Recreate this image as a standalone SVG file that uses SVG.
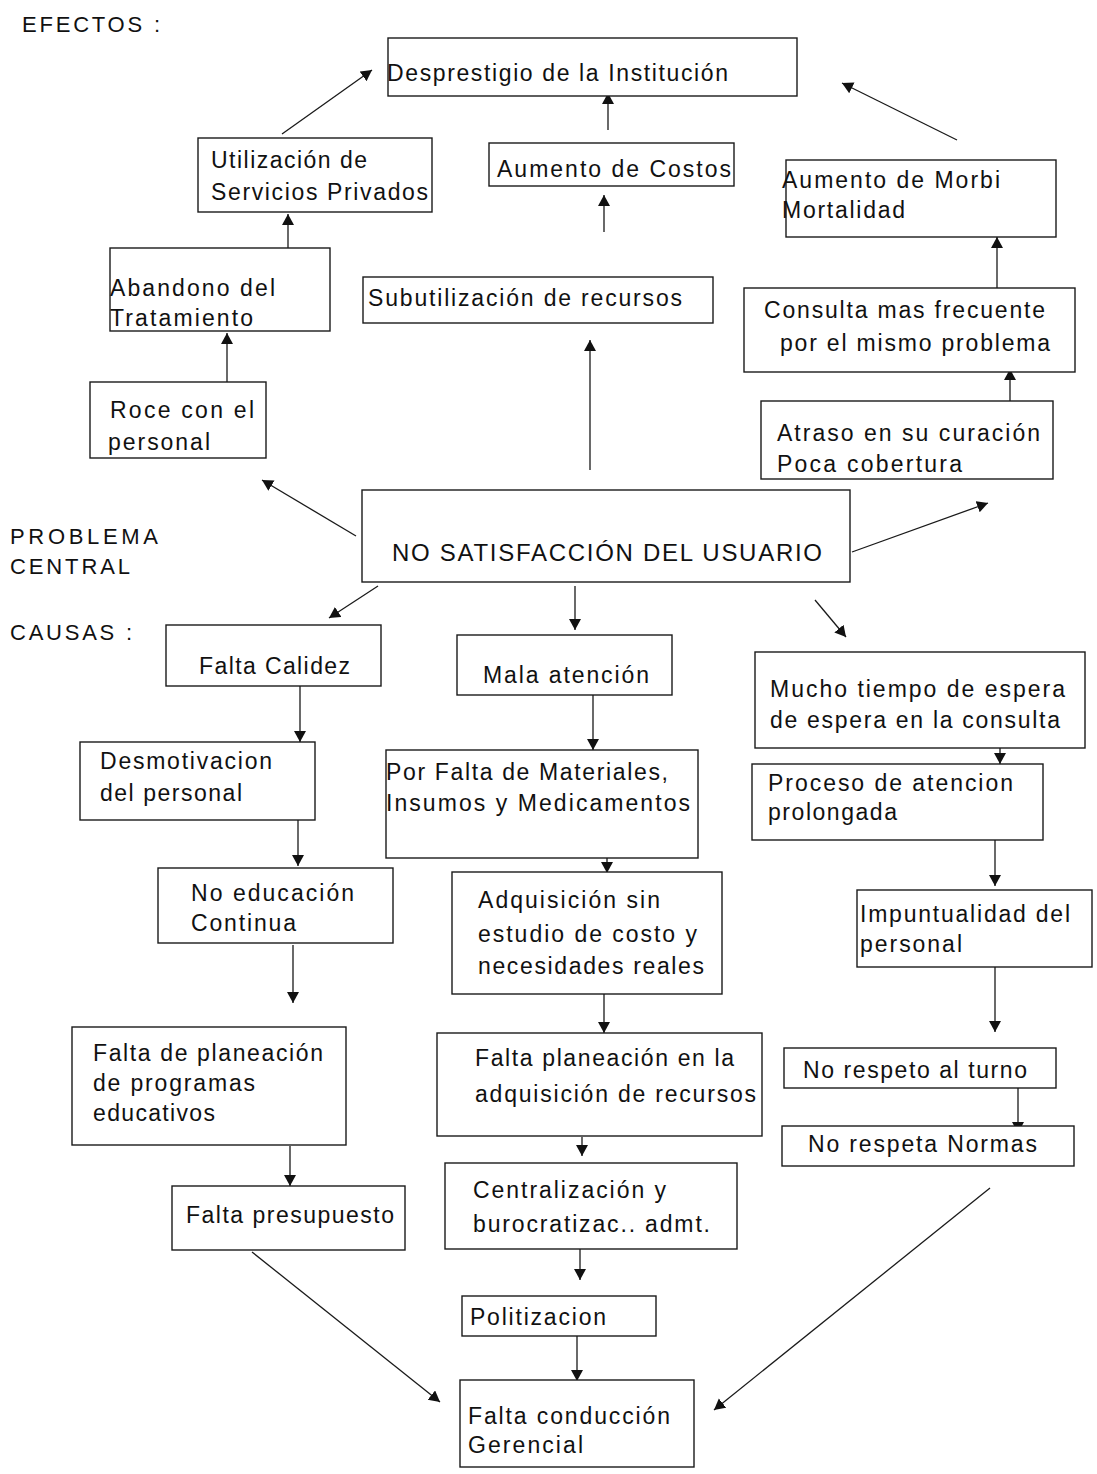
<svg xmlns="http://www.w3.org/2000/svg" width="1097" height="1474" viewBox="0 0 1097 1474">
  <style>
    .box { fill: #fff; stroke: #1a1a1a; stroke-width: 1.4; }
    .t { font-family: "Liberation Sans", Arial, sans-serif; font-size: 23px; fill: #111; }
    .lbl { font-family: "Liberation Sans", Arial, sans-serif; font-size: 22px; fill: #111; }
    .big { font-size: 24px; }
    .c { fill: none; stroke: #1a1a1a; stroke-width: 1.3; marker-end: url(#ah); }
  </style>
  <defs>
    <marker id="ah" markerUnits="userSpaceOnUse" markerWidth="13" markerHeight="13" refX="11" refY="6" orient="auto">
      <path d="M0,0 L11,6 L0,12 Z" fill="#111"/>
    </marker>
  </defs>
  <rect width="1097" height="1474" fill="#fff"/>

  <!-- section labels -->
  <text class="lbl" x="22" y="32" textLength="138" lengthAdjust="spacing">EFECTOS :</text>
  <text class="lbl" x="10" y="544" textLength="148" lengthAdjust="spacing">PROBLEMA</text>
  <text class="lbl" x="10" y="574" textLength="120" lengthAdjust="spacing">CENTRAL</text>
  <text class="lbl" x="10" y="640" textLength="122" lengthAdjust="spacing">CAUSAS :</text>

  <!-- connectors -->
  <g id="connectors">
    <line class="c" x1="282" y1="134" x2="372" y2="70"/>
    <line class="c" x1="608" y1="130" x2="608" y2="93"/>
    <line class="c" x1="957" y1="140" x2="842" y2="83"/>
    <line class="c" x1="288" y1="250" x2="288" y2="214"/>
    <line class="c" x1="604" y1="232" x2="604" y2="195"/>
    <line class="c" x1="997" y1="288" x2="997" y2="237"/>
    <line class="c" x1="227" y1="382" x2="227" y2="333"/>
    <line class="c" x1="590" y1="470" x2="590" y2="340"/>
    <line class="c" x1="1010" y1="404" x2="1010" y2="369"/>
    <line class="c" x1="356" y1="536" x2="262" y2="480"/>
    <line class="c" x1="852" y1="552" x2="988" y2="503"/>
    <line class="c" x1="378" y1="586" x2="329" y2="618"/>
    <line class="c" x1="575" y1="586" x2="575" y2="630"/>
    <line class="c" x1="815" y1="600" x2="846" y2="637"/>
    <line class="c" x1="300" y1="686" x2="300" y2="742"/>
    <line class="c" x1="298" y1="820" x2="298" y2="866"/>
    <line class="c" x1="293" y1="945" x2="293" y2="1003"/>
    <line class="c" x1="290" y1="1146" x2="290" y2="1186"/>
    <line class="c" x1="593" y1="695" x2="593" y2="750"/>
    <line class="c" x1="607" y1="858" x2="607" y2="873"/>
    <line class="c" x1="604" y1="994" x2="604" y2="1033"/>
    <line class="c" x1="582" y1="1137" x2="582" y2="1156"/>
    <line class="c" x1="580" y1="1238" x2="580" y2="1280"/>
    <line class="c" x1="577" y1="1336" x2="577" y2="1381"/>
    <line class="c" x1="1000" y1="748" x2="1000" y2="764"/>
    <line class="c" x1="995" y1="840" x2="995" y2="886"/>
    <line class="c" x1="995" y1="967" x2="995" y2="1032"/>
    <line class="c" x1="1018" y1="1088" x2="1018" y2="1133"/>
    <line class="c" x1="252" y1="1252" x2="440" y2="1402"/>
    <line class="c" x1="990" y1="1188" x2="714" y2="1410"/>
  </g>

  <!-- effects -->
  <g id="desprestigio">
    <rect class="box" x="388" y="38" width="409" height="58"/>
    <text class="t" x="387" y="81" textLength="341" lengthAdjust="spacing">Desprestigio de la Institución</text>
  </g>
  <g id="servicios-privados">
    <rect class="box" x="198" y="138" width="234" height="74"/>
    <text class="t" x="211" y="168" textLength="156" lengthAdjust="spacing">Utilización de</text>
    <text class="t" x="211" y="200" textLength="217" lengthAdjust="spacing">Servicios Privados</text>
  </g>
  <g id="aumento-costos">
    <rect class="box" x="489" y="143" width="245" height="43"/>
    <text class="t" x="497" y="177" textLength="234" lengthAdjust="spacing">Aumento de Costos</text>
  </g>
  <g id="morbi-mortalidad">
    <rect class="box" x="786" y="160" width="270" height="77"/>
    <text class="t" x="782" y="188" textLength="218" lengthAdjust="spacing">Aumento de Morbi</text>
    <text class="t" x="782" y="218" textLength="123" lengthAdjust="spacing">Mortalidad</text>
  </g>
  <g id="abandono">
    <rect class="box" x="110" y="248" width="220" height="83"/>
    <text class="t" x="110" y="296" textLength="165" lengthAdjust="spacing">Abandono del</text>
    <text class="t" x="110" y="326" textLength="143" lengthAdjust="spacing">Tratamiento</text>
  </g>
  <g id="subutilizacion">
    <rect class="box" x="363" y="277" width="350" height="46"/>
    <text class="t" x="368" y="306" textLength="314" lengthAdjust="spacing">Subutilización de recursos</text>
  </g>
  <g id="consulta-frecuente">
    <rect class="box" x="744" y="288" width="331" height="84"/>
    <text class="t" x="764" y="318" textLength="281" lengthAdjust="spacing">Consulta mas frecuente</text>
    <text class="t" x="780" y="351" textLength="270" lengthAdjust="spacing">por el mismo problema</text>
  </g>
  <g id="roce-personal">
    <rect class="box" x="90" y="382" width="176" height="76"/>
    <text class="t" x="110" y="418" textLength="144" lengthAdjust="spacing">Roce con el</text>
    <text class="t" x="108" y="450" textLength="102" lengthAdjust="spacing">personal</text>
  </g>
  <g id="atraso-curacion">
    <rect class="box" x="761" y="401" width="292" height="78"/>
    <text class="t" x="777" y="441" textLength="263" lengthAdjust="spacing">Atraso en su curación</text>
    <text class="t" x="777" y="472" textLength="185" lengthAdjust="spacing">Poca cobertura</text>
  </g>

  <!-- central problem -->
  <g id="problema-central">
    <rect class="box" x="362" y="490" width="488" height="92"/>
    <text class="t big" x="392" y="561" textLength="430" lengthAdjust="spacing">NO SATISFACCIÓN DEL USUARIO</text>
  </g>

  <!-- causes, left column -->
  <g id="falta-calidez">
    <rect class="box" x="166" y="625" width="215" height="61"/>
    <text class="t" x="199" y="674" textLength="151" lengthAdjust="spacing">Falta Calidez</text>
  </g>
  <g id="desmotivacion">
    <rect class="box" x="80" y="742" width="235" height="78"/>
    <text class="t" x="100" y="769" textLength="172" lengthAdjust="spacing">Desmotivacion</text>
    <text class="t" x="100" y="801" textLength="142" lengthAdjust="spacing">del personal</text>
  </g>
  <g id="no-educacion">
    <rect class="box" x="158" y="868" width="235" height="75"/>
    <text class="t" x="191" y="901" textLength="163" lengthAdjust="spacing">No educación</text>
    <text class="t" x="191" y="931" textLength="105" lengthAdjust="spacing">Continua</text>
  </g>
  <g id="planeacion-programas">
    <rect class="box" x="72" y="1027" width="274" height="118"/>
    <text class="t" x="93" y="1061" textLength="230" lengthAdjust="spacing">Falta de planeación</text>
    <text class="t" x="93" y="1091" textLength="162" lengthAdjust="spacing">de programas</text>
    <text class="t" x="93" y="1121" textLength="122" lengthAdjust="spacing">educativos</text>
  </g>
  <g id="falta-presupuesto">
    <rect class="box" x="172" y="1186" width="233" height="64"/>
    <text class="t" x="186" y="1223" textLength="208" lengthAdjust="spacing">Falta presupuesto</text>
  </g>

  <!-- causes, middle column -->
  <g id="mala-atencion">
    <rect class="box" x="457" y="635" width="215" height="60"/>
    <text class="t" x="483" y="683" textLength="166" lengthAdjust="spacing">Mala atención</text>
  </g>
  <g id="falta-materiales">
    <rect class="box" x="386" y="750" width="312" height="108"/>
    <text class="t" x="386" y="780" textLength="282" lengthAdjust="spacing">Por Falta de Materiales,</text>
    <text class="t" x="386" y="811" textLength="304" lengthAdjust="spacing">Insumos y Medicamentos</text>
  </g>
  <g id="adquisicion">
    <rect class="box" x="452" y="872" width="270" height="122"/>
    <text class="t" x="478" y="908" textLength="182" lengthAdjust="spacing">Adquisición sin</text>
    <text class="t" x="478" y="942" textLength="219" lengthAdjust="spacing">estudio de costo y</text>
    <text class="t" x="478" y="974" textLength="226" lengthAdjust="spacing">necesidades reales</text>
  </g>
  <g id="planeacion-adquisicion">
    <rect class="box" x="437" y="1033" width="325" height="103"/>
    <text class="t" x="475" y="1066" textLength="259" lengthAdjust="spacing">Falta planeación en la</text>
    <text class="t" x="475" y="1102" textLength="281" lengthAdjust="spacing">adquisición de recursos</text>
  </g>
  <g id="centralizacion">
    <rect class="box" x="445" y="1163" width="292" height="86"/>
    <text class="t" x="473" y="1198" textLength="193" lengthAdjust="spacing">Centralización y</text>
    <text class="t" x="473" y="1232" textLength="237" lengthAdjust="spacing">burocratizac.. admt.</text>
  </g>
  <g id="politizacion">
    <rect class="box" x="462" y="1296" width="194" height="40"/>
    <text class="t" x="470" y="1325" textLength="136" lengthAdjust="spacing">Politizacion</text>
  </g>
  <g id="conduccion-gerencial">
    <rect class="box" x="460" y="1380" width="234" height="87"/>
    <text class="t" x="468" y="1424" textLength="202" lengthAdjust="spacing">Falta conducción</text>
    <text class="t" x="468" y="1453" textLength="115" lengthAdjust="spacing">Gerencial</text>
  </g>

  <!-- causes, right column -->
  <g id="tiempo-espera">
    <rect class="box" x="755" y="652" width="330" height="96"/>
    <text class="t" x="770" y="697" textLength="295" lengthAdjust="spacing">Mucho tiempo de espera</text>
    <text class="t" x="770" y="728" textLength="290" lengthAdjust="spacing">de espera en la consulta</text>
  </g>
  <g id="proceso-atencion">
    <rect class="box" x="752" y="764" width="291" height="76"/>
    <text class="t" x="768" y="791" textLength="245" lengthAdjust="spacing">Proceso de atencion</text>
    <text class="t" x="768" y="820" textLength="129" lengthAdjust="spacing">prolongada</text>
  </g>
  <g id="impuntualidad">
    <rect class="box" x="857" y="890" width="235" height="77"/>
    <text class="t" x="860" y="922" textLength="210" lengthAdjust="spacing">Impuntualidad del</text>
    <text class="t" x="860" y="952" textLength="102" lengthAdjust="spacing">personal</text>
  </g>
  <g id="respeto-turno">
    <rect class="box" x="784" y="1048" width="272" height="40"/>
    <text class="t" x="803" y="1078" textLength="224" lengthAdjust="spacing">No respeto al turno</text>
  </g>
  <g id="respeta-normas">
    <rect class="box" x="782" y="1126" width="292" height="40"/>
    <text class="t" x="808" y="1152" textLength="229" lengthAdjust="spacing">No respeta Normas</text>
  </g>
</svg>
